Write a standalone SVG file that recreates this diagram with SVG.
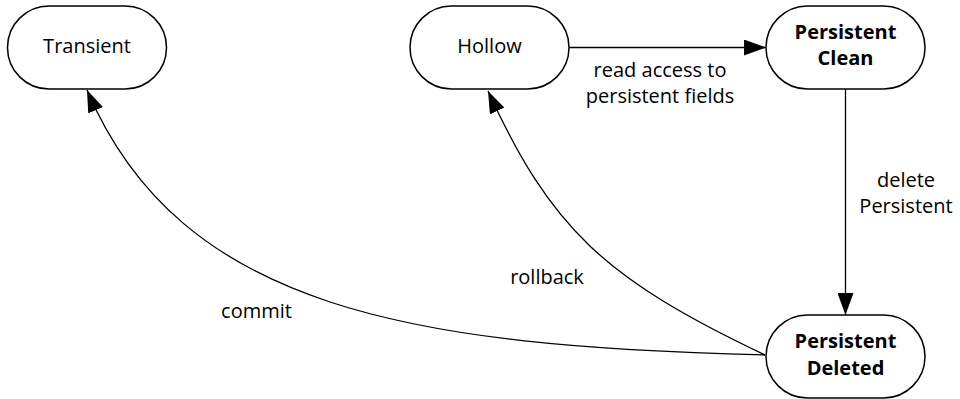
<svg xmlns="http://www.w3.org/2000/svg" width="960" height="399" viewBox="0 0 960 399">
<defs>
<style>
.node rect{fill:#fff;stroke:#000;stroke-width:1.5}
.t{font-family:"Open Sans","Noto Sans",sans-serif;font-size:20px;fill:#000;text-anchor:middle}
.b{font-weight:bold}
.edge{fill:none;stroke:#000;stroke-width:1.3}
</style>
<marker id="arr" markerUnits="userSpaceOnUse" markerWidth="22" markerHeight="16" refX="22" refY="8" orient="auto">
<path d="M0,0 L22,8 L0,16 z" fill="#000"/>
</marker>
</defs>
<g id="connectors">
<path class="edge" d="M569,47.5 L766,47.5" marker-end="url(#arr)"/>
<path class="edge" d="M845.5,89 L845.5,315" marker-end="url(#arr)"/>
<path class="edge" d="M765,355 C415,346 181,311 87,90" marker-end="url(#arr)"/>
<path class="edge" d="M765,355 C603,278 551,228 488,91" marker-end="url(#arr)"/>
<text class="t" x="660" y="77">read access to</text>
<text class="t" x="660" y="103">persistent fields</text>
<text class="t" x="906" y="187">delete</text>
<text class="t" x="906" y="213">Persistent</text>
<text class="t" x="547" y="284">rollback</text>
<text class="t" x="256.5" y="318">commit</text>
</g>
<g id="transient" class="node">
<rect x="7.5" y="6" width="159" height="83" rx="41.5"/>
<text class="t" x="87" y="53">Transient</text>
</g>
<g id="hollow" class="node">
<rect x="410" y="6" width="159" height="83" rx="41.5"/>
<text class="t" x="489.5" y="53">Hollow</text>
</g>
<g id="persistent-clean" class="node">
<rect x="766" y="6" width="159" height="83" rx="41.5"/>
<text class="t b" x="845.5" y="39">Persistent</text>
<text class="t b" x="845.5" y="65">Clean</text>
</g>
<g id="persistent-deleted" class="node">
<rect x="766" y="315" width="159" height="83" rx="41.5"/>
<text class="t b" x="845.5" y="348">Persistent</text>
<text class="t b" x="845.5" y="375">Deleted</text>
</g>
</svg>
